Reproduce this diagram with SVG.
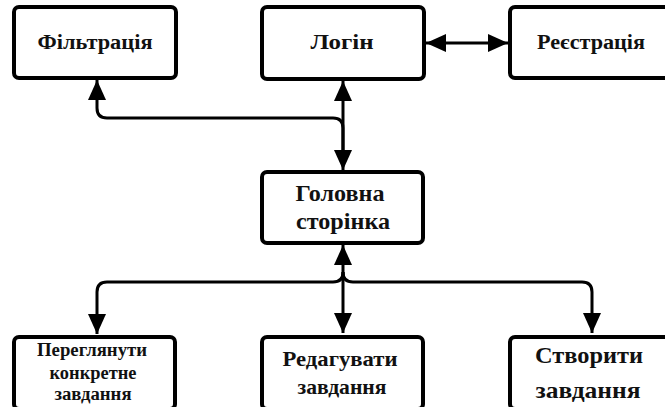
<svg xmlns="http://www.w3.org/2000/svg" width="665" height="407" viewBox="0 0 665 407">
<style>
.box{fill:#fff;stroke:#000;stroke-width:4}
.lbl{font-family:"Liberation Serif","DejaVu Serif",serif;font-weight:700;fill:#111;text-anchor:middle}
.edge{fill:none;stroke:#000;stroke-width:3}
</style>
<defs>
<marker id="ah" markerUnits="userSpaceOnUse" markerWidth="20" markerHeight="18" refX="20" refY="9" orient="auto-start-reverse" viewBox="0 0 20 18">
<path d="M0,0 L20,9 L0,18 z" fill="#000"/>
</marker>
</defs>
<rect width="665" height="407" fill="#fff"/>
<g id="edges">
<path class="edge" d="M426,43 L508,43" marker-start="url(#ah)" marker-end="url(#ah)"/>
<path class="edge" d="M343,81 L343,170" marker-start="url(#ah)" marker-end="url(#ah)"/>
<path class="edge" d="M343,150 L343,128 Q343,118 333,118 L107,118 Q97,118 97,108 L97,80" marker-end="url(#ah)"/>
<path class="edge" d="M343,245 L343,333" marker-start="url(#ah)" marker-end="url(#ah)"/>
<path class="edge" d="M343,272 Q343,282 333,282 L107,282 Q97,282 97,292 L97,334" marker-end="url(#ah)"/>
<path class="edge" d="M343,272 Q343,282 353,282 L582,282 Q592,282 592,292 L592,333" marker-end="url(#ah)"/>
</g>
<g id="filtr">
<rect class="box" x="14" y="7" width="162" height="71" rx="5"/>
<text class="lbl" x="95" y="49" font-size="20" textLength="115" lengthAdjust="spacingAndGlyphs">Фільтрація</text>
</g>
<g id="login">
<rect class="box" x="262" y="7" width="162" height="72" rx="5"/>
<text class="lbl" x="342" y="49" font-size="20" textLength="63" lengthAdjust="spacingAndGlyphs">Логін</text>
</g>
<g id="reg">
<rect class="box" x="510" y="7" width="162" height="71" rx="5"/>
<text class="lbl" x="591" y="49" font-size="20" textLength="108" lengthAdjust="spacingAndGlyphs">Реєстрація</text>
</g>
<g id="main">
<rect class="box" x="262" y="172" width="161" height="71" rx="5"/>
<text class="lbl" x="340" y="201" font-size="23" textLength="89" lengthAdjust="spacingAndGlyphs">Головна</text>
<text class="lbl" x="343" y="229" font-size="23" textLength="94" lengthAdjust="spacingAndGlyphs">сторінка</text>
</g>
<g id="view">
<rect class="box" x="14" y="337" width="161" height="72" rx="5"/>
<text class="lbl" x="92" y="356" font-size="18" textLength="110" lengthAdjust="spacingAndGlyphs">Переглянути</text>
<text class="lbl" x="93" y="379" font-size="18" textLength="87" lengthAdjust="spacingAndGlyphs">конкретне</text>
<text class="lbl" x="93" y="400" font-size="18" textLength="77" lengthAdjust="spacingAndGlyphs">завдання</text>
</g>
<g id="edit">
<rect class="box" x="262" y="337" width="161" height="72" rx="5"/>
<text class="lbl" x="340" y="366" font-size="22" textLength="115" lengthAdjust="spacingAndGlyphs">Редагувати</text>
<text class="lbl" x="342" y="394" font-size="22" textLength="89" lengthAdjust="spacingAndGlyphs">завдання</text>
</g>
<g id="create">
<rect class="box" x="510" y="337" width="162" height="72" rx="5"/>
<text class="lbl" x="589" y="363" font-size="24" textLength="108" lengthAdjust="spacingAndGlyphs">Створити</text>
<text class="lbl" x="588" y="398" font-size="24" textLength="105" lengthAdjust="spacingAndGlyphs">завдання</text>
</g>
</svg>
